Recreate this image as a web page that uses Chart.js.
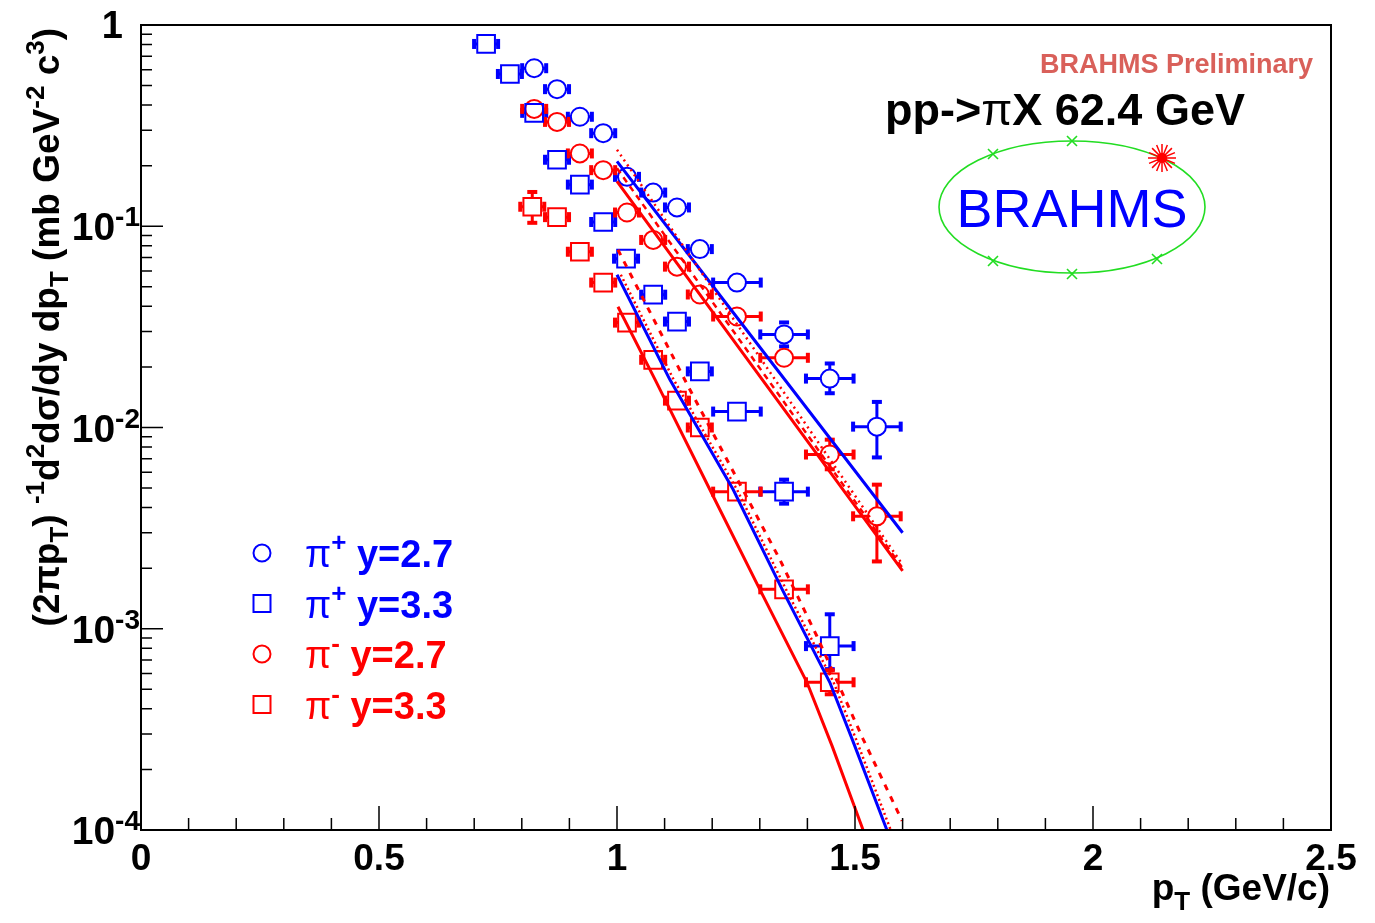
<!DOCTYPE html>
<html><head><meta charset="utf-8">
<script src="https://cdn.jsdelivr.net/npm/chart.js@4"></script>
<style>html,body{margin:0;padding:0;background:#fff}canvas{display:block}</style>
</head><body>
<canvas id="spectra" width="1375" height="923"></canvas>
<script>
// pT in GeV/c, invariant cross section in mb GeV^-2 c^3
const ptPip27  = [0.826, 0.874, 0.922, 0.971, 1.021, 1.076, 1.126, 1.174, 1.252, 1.351, 1.447, 1.546];
const valPip27 = [0.61, 0.48, 0.35, 0.29, 0.176, 0.147, 0.124, 0.077, 0.0525, 0.029, 0.0175, 0.0101];
const xErrPip27 = [0.01, 0.01, 0.01, 0.01, 0.01, 0.01, 0.01, 0.01, 0.05, 0.05, 0.05, 0.05];
const loPip27  = [null, null, null, null, null, null, null, null, null, 0.0258, 0.0148, 0.0071];
const hiPip27  = [null, null, null, null, null, null, null, null, null, 0.0319, 0.0208, 0.0134];

const ptPip33  = [0.725, 0.775, 0.826, 0.874, 0.922, 0.971, 1.019, 1.076, 1.126, 1.174, 1.252, 1.351, 1.447];
const valPip33 = [0.805, 0.571, 0.366, 0.214, 0.161, 0.105, 0.069, 0.0457, 0.0336, 0.019, 0.012, 0.0048, 0.00082];
const xErrPip33 = [0.01, 0.01, 0.01, 0.01, 0.01, 0.01, 0.01, 0.01, 0.01, 0.01, 0.05, 0.05, 0.05];
const loPip33  = [null, null, null, null, null, null, null, null, null, null, null, 0.0042, 0.00063];
const hiPip33  = [null, null, null, null, null, null, null, null, null, null, null, 0.0055, 0.00118];

const ptPim27  = [0.826, 0.874, 0.922, 0.971, 1.021, 1.076, 1.126, 1.174, 1.252, 1.351, 1.447, 1.546];
const valPim27 = [0.383, 0.33, 0.23, 0.19, 0.117, 0.0855, 0.063, 0.0458, 0.0356, 0.0222, 0.00734, 0.00362];
const xErrPim27 = [0.01, 0.01, 0.01, 0.01, 0.01, 0.01, 0.01, 0.01, 0.05, 0.05, 0.05, 0.05];
const loPim27  = [null, null, null, null, null, null, null, null, null, null, 0.0062, 0.00216];
const hiPim27  = [null, null, null, null, null, null, null, null, null, null, 0.0087, 0.0052];

const ptPim33  = [0.822, 0.874, 0.922, 0.971, 1.021, 1.076, 1.126, 1.174, 1.252, 1.351, 1.447];
const valPim33 = [0.125, 0.111, 0.0747, 0.0525, 0.0332, 0.0217, 0.0136, 0.0100, 0.0048, 0.00157, 0.000542];
const xErrPim33 = [0.01, 0.01, 0.01, 0.01, 0.01, 0.01, 0.01, 0.01, 0.05, 0.05, 0.05];
const loPim33  = [0.104, null, null, null, null, null, null, null, null, null, 0.00048];
const hiPim33  = [0.148, null, null, null, null, null, null, null, null, null, 0.00062];

// fit curves
const fitPtUp      = [1.0, 1.2, 1.4, 1.6];
const fitPip27     = [0.210, 0.0509, 0.01236, 0.0030];
const fitPim27     = [0.167, 0.0378, 0.00856, 0.00194];
const fitPim27Dot  = [0.240, 0.0493, 0.0101, 0.00208];
const fitPim27Dash = [0.194, 0.0422, 0.0092, 0.0020];

const fitPtPip33   = [1.0, 1.111, 1.244, 1.347, 1.447, 1.494, 1.567];
const fitPip33     = [0.0574, 0.0173, 0.00492, 0.00157, 0.000542, 0.000283, 0.0001];
const fitPtPim33Dot = [1.008, 1.119, 1.252, 1.355, 1.455, 1.502, 1.575];
const fitPim33Dot  = [0.0574, 0.0173, 0.00492, 0.00157, 0.000542, 0.000283, 0.0001];
const fitPtPim33   = [1.002, 1.080, 1.195, 1.300, 1.399, 1.452, 1.517];
const fitPim33     = [0.0398, 0.0173, 0.00492, 0.00157, 0.000542, 0.000261, 0.0001];
const fitPtPim33Dash = [1.002, 1.153, 1.342, 1.420, 1.517, 1.599];
const fitPim33Dash = [0.0764, 0.01544, 0.00221, 0.000918, 0.000283, 0.000111];

const xTicks = [0, 0.5, 1, 1.5, 2, 2.5];
const xTickLabels = ['0', '0.5', '1', '1.5', '2', '2.5'];
const yTicks = [1, 0.1, 0.01, 0.001, 0.0001];
const yTickExps = [null, '-1', '-2', '-3', '-4'];

const legendSigns = ['+', '+', '-', '-'];
const legendRap = ['y=2.7', 'y=3.3', 'y=2.7', 'y=3.3'];

const BLUE = '#0000ff', RED = '#ff0000';
const FONT = '"Liberation Sans", Arial, Helvetica, sans-serif';

const pts = (xs, ys) => xs.map((x, i) => ({ x: x, y: ys[i] }));

const markerSets = [
  { label: 'pi+ y=2.7', x: ptPip27, y: valPip27, xe: xErrPip27, lo: loPip27, hi: hiPip27, color: BLUE, style: 'circle', r: 9, half: 9 },
  { label: 'pi+ y=3.3', x: ptPip33, y: valPip33, xe: xErrPip33, lo: loPip33, hi: hiPip33, color: BLUE, style: 'rect', r: 12.5, half: 9 },
  { label: 'pi- y=2.7', x: ptPim27, y: valPim27, xe: xErrPim27, lo: loPim27, hi: hiPim27, color: RED, style: 'circle', r: 9, half: 9 },
  { label: 'pi- y=3.3', x: ptPim33, y: valPim33, xe: xErrPim33, lo: loPim33, hi: hiPim33, color: RED, style: 'rect', r: 12.5, half: 9 }
];

const fitSets = [
  { x: fitPtUp, y: fitPim27Dot, color: RED, dash: [2, 4], w: 2.5 },
  { x: fitPtUp, y: fitPim27Dash, color: RED, dash: [6, 5], w: 2.5 },
  { x: fitPtUp, y: fitPim27, color: RED, dash: [], w: 3 },
  { x: fitPtUp, y: fitPip27, color: BLUE, dash: [], w: 3 },
  { x: fitPtPim33Dash, y: fitPim33Dash, color: RED, dash: [6, 7], w: 3 },
  { x: fitPtPim33Dot, y: fitPim33Dot, color: RED, dash: [2, 3], w: 2.5 },
  { x: fitPtPim33, y: fitPim33, color: RED, dash: [], w: 3 },
  { x: fitPtPip33, y: fitPip33, color: BLUE, dash: [], w: 3 }
];

const datasets = [];
fitSets.forEach(f => datasets.push({
  data: pts(f.x, f.y), showLine: true, pointRadius: 0, borderColor: f.color,
  borderWidth: f.w, borderDash: f.dash, tension: 0, fill: false, order: 0
}));
markerSets.forEach(m => datasets.push({
  label: m.label, data: pts(m.x, m.y), showLine: false, pointStyle: m.style,
  pointRadius: m.r, pointBorderWidth: 2, pointBorderColor: m.color,
  pointBackgroundColor: 'rgba(0,0,0,0)', order: 1
}));

// text with sub/superscripts: parts = [text, size, dy, weight]
function rich(ctx, parts, x, y, align, color) {
  let w = 0;
  parts.forEach(p => { ctx.font = (p[3] || 'bold') + ' ' + p[1] + 'px ' + FONT; p.w = ctx.measureText(p[0]).width; w += p.w; });
  let cx = align === 'right' ? x - w : align === 'center' ? x - w / 2 : x;
  ctx.fillStyle = color;
  ctx.textAlign = 'left';
  ctx.textBaseline = 'alphabetic';
  parts.forEach(p => { ctx.font = (p[3] || 'bold') + ' ' + p[1] + 'px ' + FONT; ctx.fillText(p[0], cx, y + (p[2] || 0)); cx += p.w; });
}

function drawMarker(ctx, style, x, y, color) {
  ctx.save();
  ctx.strokeStyle = color; ctx.lineWidth = 2;
  ctx.beginPath();
  if (style === 'circle') ctx.arc(x, y, 8.5, 0, Math.PI * 2);
  else ctx.rect(x - 8.5, y - 8.5, 17, 17);
  ctx.stroke();
  ctx.restore();
}

const rootStyle = {
  id: 'rootStyle',
  beforeDraw(chart) {
    const ctx = chart.ctx;
    ctx.save(); ctx.fillStyle = '#fff'; ctx.fillRect(0, 0, chart.width, chart.height); ctx.restore();
  },
  beforeDatasetsDraw(chart) {
    // error bars, kept outside the open markers
    const ctx = chart.ctx, xs = chart.scales.x, ys = chart.scales.y;
    ctx.save();
    markerSets.forEach(m => {
      ctx.strokeStyle = m.color; ctx.fillStyle = m.color; ctx.lineWidth = 3;
      m.x.forEach((x, i) => {
        const px = xs.getPixelForValue(x), py = ys.getPixelForValue(m.y[i]);
        const ex = Math.max(xs.getPixelForValue(x + m.xe[i]) - px, m.half + 3);
        ctx.beginPath();
        ctx.moveTo(px - ex, py); ctx.lineTo(px - m.half, py);
        ctx.moveTo(px + m.half, py); ctx.lineTo(px + ex, py);
        ctx.stroke();
        ctx.fillRect(px - ex - 2, py - 5, 4, 10);
        ctx.fillRect(px + ex - 2, py - 5, 4, 10);
        if (m.lo[i] != null) {
          const top = ys.getPixelForValue(m.hi[i]);
          const bot = Math.min(ys.getPixelForValue(m.lo[i]), chart.chartArea.bottom);
          ctx.beginPath();
          if (top < py - m.half) { ctx.moveTo(px, top); ctx.lineTo(px, py - m.half); }
          if (bot > py + m.half) { ctx.moveTo(px, py + m.half); ctx.lineTo(px, bot); }
          ctx.stroke();
          ctx.fillRect(px - 5, Math.min(top, py - m.half - 3) - 2, 10, 4);
          ctx.fillRect(px - 5, Math.max(bot, py + m.half + 3) - 2, 10, 4);
        }
      });
    });
    ctx.restore();
  },
  afterDraw(chart) {
    const ctx = chart.ctx, a = chart.chartArea, xs = chart.scales.x, ys = chart.scales.y;
    ctx.save();
    // frame
    ctx.strokeStyle = '#000'; ctx.lineWidth = 2;
    ctx.strokeRect(a.left, a.top, a.right - a.left, a.bottom - a.top);
    // x ticks (inward)
    ctx.lineWidth = 1.5;
    ctx.beginPath();
    for (let i = 0; i <= 25; i++) {
      const px = xs.getPixelForValue(i / 10);
      const len = i % 5 === 0 ? 24 : 12;
      ctx.moveTo(px, a.bottom); ctx.lineTo(px, a.bottom - len);
    }
    // y ticks (inward)
    yTicks.forEach(d => {
      const py = ys.getPixelForValue(d);
      ctx.moveTo(a.left, py); ctx.lineTo(a.left + 22, py);
      if (d < 1) for (let k = 2; k <= 9; k++) {
        const pk = ys.getPixelForValue(d * k);
        ctx.moveTo(a.left, pk); ctx.lineTo(a.left + 11, pk);
      }
    });
    ctx.stroke();
    // x tick labels
    xTicks.forEach((v, i) => rich(ctx, [[xTickLabels[i], 37]], xs.getPixelForValue(v), 870, 'center', '#000'));
    // y tick labels
    yTicks.forEach((v, i) => {
      const py = ys.getPixelForValue(v);
      if (yTickExps[i] == null) rich(ctx, [['1', 38]], 123, py + 13, 'right', '#000');
      else rich(ctx, [['10', 39], [yTickExps[i], 28, -14]], 140, py + 14, 'right', '#000');
    });
    // axis titles
    rich(ctx, [['p', 37], ['T', 26, 10], [' (GeV/c)', 37]], 1330, 900, 'right', '#000');
    ctx.save();
    ctx.translate(59, 28);
    ctx.rotate(-Math.PI / 2);
    rich(ctx, [['(2\u03c0p', 37], ['T', 26, 9], [') ', 37], ['-1', 26, -15], ['d', 37], ['2', 26, -15],
      ['d\u03c3/dy dp', 37], ['T', 26, 9], [' (mb GeV', 37], ['-2', 26, -15], [' c', 37], ['3', 26, -15], [')', 37]],
      0, 0, 'right', '#000');
    ctx.restore();
    // legend
    markerSets.forEach((m, i) => {
      const ly = 553 + i * 50.5;
      drawMarker(ctx, m.style, 262, ly, m.color);
      rich(ctx, [['\u03c0', 38, 0, 'normal'], [legendSigns[i], 26, -16], [' ' + legendRap[i], 38]], 305, ly + 14, 'left', m.color);
    });
    // labels
    rich(ctx, [['BRAHMS Preliminary', 27]], 1313, 73, 'right', '#d9605a');
    rich(ctx, [['pp->', 45], ['\u03c0', 45, 0, 'normal'], ['X 62.4 GeV', 45]], 885, 125, 'left', '#000');
    // BRAHMS logo
    const cx = 1072, cy = 207;
    ctx.strokeStyle = '#22dd22'; ctx.lineWidth = 1.6;
    ctx.beginPath(); ctx.ellipse(cx, cy, 133, 66, 0, 0, Math.PI * 2); ctx.stroke();
    [[993, 154], [1072, 141], [993, 261], [1072, 274], [1157, 259]].forEach(p => {
      ctx.beginPath();
      ctx.moveTo(p[0] - 5, p[1] - 5); ctx.lineTo(p[0] + 5, p[1] + 5);
      ctx.moveTo(p[0] + 5, p[1] - 5); ctx.lineTo(p[0] - 5, p[1] + 5);
      ctx.stroke();
    });
    ctx.strokeStyle = RED; ctx.lineWidth = 1.5;
    ctx.beginPath();
    for (let k = 0; k < 16; k++) {
      const t = k * Math.PI / 8;
      ctx.moveTo(1162, 158); ctx.lineTo(1162 + 14 * Math.cos(t), 158 + 14 * Math.sin(t));
    }
    ctx.stroke();
    ctx.fillStyle = RED; ctx.beginPath(); ctx.arc(1162, 158, 5, 0, Math.PI * 2); ctx.fill();
    rich(ctx, [['BRAHMS', 54, 0, 'normal']], cx, cy + 20, 'center', BLUE);
    ctx.restore();
  }
};

new Chart(document.getElementById('spectra'), {
  type: 'scatter',
  data: { datasets: datasets },
  options: {
    responsive: false,
    devicePixelRatio: 1,
    animation: false,
    layout: { padding: { left: 141, right: 44, top: 25, bottom: 93 } },
    plugins: { legend: { display: false }, tooltip: { enabled: false } },
    scales: {
      x: { type: 'linear', min: 0, max: 2.5, display: false },
      y: { type: 'logarithmic', min: 0.0001, max: 1, display: false }
    }
  },
  plugins: [rootStyle]
});
</script>
</body></html>
